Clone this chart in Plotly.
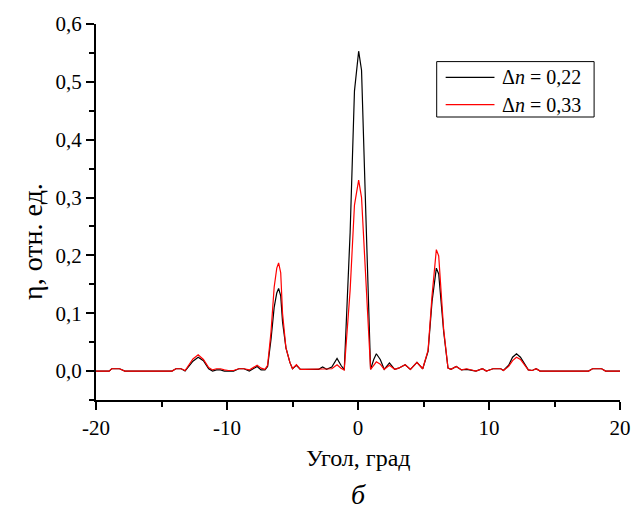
import plotly.graph_objects as go

angle = [-20, -19.0, -18.8, -18.2, -17.8, -14.2, -13.9, -13.5, -13.2, -12.9, -12.6, -12.2,
         -11.8, -11.4, -11.1, -10.8, -10.5, -10.2, -9.9, -9.5, -9.1, -8.7, -8.3, -8.0, -7.7,
         -7.4, -7.1, -6.9, -6.64, -6.4, -6.2, -6.06, -5.9, -5.76, -5.5, -5.2, -5.0, -4.7,
         -4.4, -4.1, -3.5, -3.0, -2.7, -2.4, -2.0, -1.6, -1.3, -1.05, -0.6, -0.27, 0.05,
         0.27, 0.6, 0.96, 1.2, 1.4, 1.7, 2.0, 2.4, 2.8, 3.1, 3.6, 4.0, 4.5, 4.94, 5.35,
         5.65, 5.98, 6.16, 6.54, 6.87, 7.1, 7.5, 7.9, 8.3, 8.6, 9.0, 9.5, 9.8, 10.3, 10.6,
         10.9, 11.1, 11.5, 11.8, 12.1, 12.4, 12.7, 13.0, 13.3, 13.6, 13.9, 17.6, 17.9,
         18.6, 18.9, 20]

eta_022 = [0, 0, 0.004, 0.004, 0, 0, 0.004, 0.004, 0.0, 0.008, 0.017, 0.024,
           0.018, 0.004, 0.0, 0.002, 0.002, 0.0, 0.0, 0.0, 0.004, 0.004, 0.0, 0.004, 0.008,
           0.002, 0.002, 0.008, 0.055, 0.11, 0.135, 0.143, 0.13, 0.085, 0.04, 0.015, 0.004, 0.01,
           0.003, 0.003, 0.003, 0.003, 0.007, 0.003, 0.007, 0.022, 0.01, 0.002, 0.24, 0.484, 0.553,
           0.52, 0.27, 0.003, 0.02, 0.03, 0.02, 0.003, 0.014, 0.003, 0.005, 0.011, 0.003, 0.015, 0.004, 0.034,
           0.12, 0.178, 0.168, 0.068, 0.005, 0.003, 0.008, 0.002, 0.003, 0.002, 0.0, 0.004, 0.0, 0.004, 0.004,
           0.004, 0.001, 0.01, 0.024, 0.03, 0.024, 0.012, 0.002, 0.001, 0.004, 0, 0, 0.004,
           0.004, 0, 0]

eta_033 = [0, 0, 0.004, 0.004, 0, 0, 0.004, 0.004, 0.001, 0.01, 0.021, 0.028,
           0.02, 0.006, 0.002, 0.004, 0.004, 0.002, 0.001, 0.001, 0.004, 0.004, 0.002, 0.006, 0.01,
           0.005, 0.003, 0.01, 0.068, 0.145, 0.178, 0.187, 0.17, 0.1, 0.04, 0.015, 0.004, 0.011,
           0.003, 0.003, 0.003, 0.003, 0.004, 0.003, 0.004, 0.011, 0.005, 0.002, 0.14, 0.287, 0.33,
           0.3, 0.16, 0.003, 0.01, 0.016, 0.012, 0.003, 0.01, 0.003, 0.005, 0.011, 0.003, 0.015, 0.004, 0.036,
           0.13, 0.21, 0.199, 0.072, 0.005, 0.003, 0.008, 0.002, 0.004, 0.002, 0.0, 0.004, 0.0, 0.004, 0.004,
           0.004, 0.001, 0.008, 0.018, 0.024, 0.02, 0.01, 0.002, 0.001, 0.004, 0, 0, 0.004,
           0.004, 0, 0]

series_names = ["Δ<i>n</i> = 0,22", "Δ<i>n</i> = 0,33"]
series_colors = ["#000000", "#ff0000"]

x_tickvals = [-20, -10, 0, 10, 20]
x_ticktext = ["-20", "-10", "0", "10", "20"]
y_tickvals = [0.0, 0.1, 0.2, 0.3, 0.4, 0.5, 0.6]
y_ticktext = ["0,0", "0,1", "0,2", "0,3", "0,4", "0,5", "0,6"]

FONT = "Liberation Serif"

# plot-area pixel geometry (for paper-coordinate conversions of the legend box)
L, R, T, B = 96, 622, 20, 400
def px(x):
    return (x - L) / (R - L)
def py(y):
    return (B - y) / (B - T)

fig = go.Figure()
for ys, name, col in zip([eta_022, eta_033], series_names, series_colors):
    fig.add_trace(go.Scatter(x=angle, y=ys, mode="lines", name=name,
                             line=dict(color=col, width=1.2), showlegend=False))

axis_common = dict(showline=True, linecolor="black", linewidth=2, ticks="outside",
                   tickwidth=2, ticklen=8, tickcolor="black", showgrid=False, zeroline=False,
                   mirror=False, tickfont=dict(family=FONT, size=21, color="black"),
                   tickmode="array")

fig.update_xaxes(range=[-20, 20], tickvals=x_tickvals, ticktext=x_ticktext,
                 minor=dict(tickmode="array", tickvals=[-15, -5, 5, 15], ticks="outside",
                            ticklen=5, tickwidth=2, tickcolor="black"),
                 **axis_common)
fig.update_yaxes(range=[-0.05, 0.6], tickvals=y_tickvals, ticktext=y_ticktext,
                 minor=dict(tickmode="array", tickvals=[-0.05, 0.05, 0.15, 0.25, 0.35, 0.45, 0.55],
                            ticks="outside", ticklen=5, tickwidth=2, tickcolor="black"),
                 **axis_common)

# legend drawn manually for compact row spacing
shapes = [dict(type="rect", xref="paper", yref="paper",
               x0=px(438), x1=px(596), y0=py(114), y1=py(58),
               line=dict(color="black", width=1), fillcolor="white", layer="above")]
annotations = []
for i, (name, col) in enumerate(zip(series_names, series_colors)):
    yrow = 74 + i * 27.5
    shapes.append(dict(type="line", xref="paper", yref="paper",
                       x0=px(447), x1=px(496), y0=py(yrow), y1=py(yrow),
                       line=dict(color=col, width=1.2), layer="above"))
    annotations.append(dict(text=name, xref="paper", yref="paper", x=px(502), y=py(yrow),
                            xanchor="left", yanchor="middle", showarrow=False,
                            font=dict(family=FONT, size=20, color="black")))

annotations += [
    dict(text="Угол, град", xref="paper", yref="paper", x=0.5, y=py(459),
         xanchor="center", yanchor="middle", showarrow=False,
         font=dict(family=FONT, size=24, color="black")),
    dict(text="<i>б</i>", xref="paper", yref="paper", x=0.5, y=py(496),
         xanchor="center", yanchor="middle", showarrow=False,
         font=dict(family=FONT, size=28, color="black")),
    dict(text="η, отн. ед.", xref="paper", yref="paper", x=px(32), y=py(240),
         xanchor="center", yanchor="middle", showarrow=False, textangle=-90,
         font=dict(family=FONT, size=28, color="black")),
]

fig.update_layout(
    width=643, height=513,
    margin=dict(l=L, r=643 - R, t=T, b=513 - B),
    paper_bgcolor="white", plot_bgcolor="white",
    font=dict(family=FONT, color="black"),
    showlegend=False,
    shapes=shapes,
    annotations=annotations,
)

fig.write_html("out.html", config={"displayModeBar": False},
               post_script="document.body.style.margin='0';document.body.style.padding='0';")
